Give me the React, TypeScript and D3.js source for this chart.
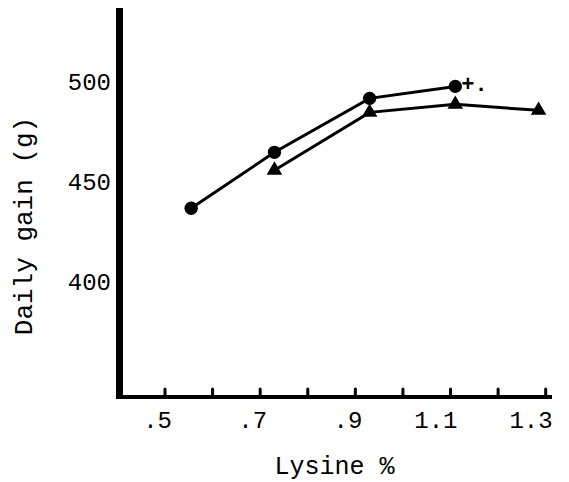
import * as d3 from "d3";
import { useEffect, useRef } from "react";

// lysine levels (%) and daily gain (g)
const circleLysine = [0.555, 0.73, 0.93, 1.11];
const circleGain = [437, 465, 492, 498];
const triangleLysine = [0.73, 0.93, 1.11, 1.285];
const triangleGain = [456, 485, 489, 486];

const xTicks = [0.5, 0.6, 0.7, 0.8, 0.9, 1.0, 1.1, 1.2, 1.3];
const xTickLabels = [".5", ".7", ".9", "1.1", "1.3"];
const xLabelValues = [0.5, 0.7, 0.9, 1.1, 1.3];
const yTicks = [400, 450, 500];

const FONT = "'Liberation Mono', 'DejaVu Sans Mono', monospace";

export default function App() {
  const ref = useRef<SVGSVGElement>(null);

  useEffect(() => {
    const svg = d3.select(ref.current);
    svg.selectAll("*").remove();

    const x = d3.scaleLinear().domain([0.5, 1.3]).range([165, 545.7]);
    const y = d3.scaleLinear().domain([343, 537]).range([396, 8.5]);

    const axisX = 119.5;
    const axisY = 397;

    // y axis (thick bar)
    svg
      .append("line")
      .attr("x1", axisX)
      .attr("x2", axisX)
      .attr("y1", 8)
      .attr("y2", axisY + 2)
      .attr("stroke", "#000")
      .attr("stroke-width", 7);

    // x axis
    svg
      .append("line")
      .attr("x1", axisX)
      .attr("x2", 552)
      .attr("y1", axisY)
      .attr("y2", axisY)
      .attr("stroke", "#000")
      .attr("stroke-width", 4);

    // small tick bumps above the x axis
    svg
      .append("g")
      .selectAll("line")
      .data(xTicks)
      .join("line")
      .attr("x1", (d) => x(d))
      .attr("x2", (d) => x(d))
      .attr("y1", axisY - 8)
      .attr("y2", axisY)
      .attr("stroke", "#000")
      .attr("stroke-width", 3)
      .attr("stroke-linecap", "round");

    // x tick labels, last digit under the tick
    svg
      .append("g")
      .selectAll("text")
      .data(xTickLabels)
      .join("text")
      .attr("x", (d, i) => x(xLabelValues[i]) + 7)
      .attr("y", 428)
      .attr("text-anchor", "end")
      .style("font-family", FONT)
      .style("font-size", "24px")
      .text((d) => d);

    // y tick labels
    svg
      .append("g")
      .selectAll("text")
      .data(yTicks)
      .join("text")
      .attr("x", 111)
      .attr("y", (d) => y(d) + 7.5)
      .attr("text-anchor", "end")
      .style("font-family", FONT)
      .style("font-size", "24px")
      .text((d) => d);

    // axis titles
    svg
      .append("text")
      .attr("transform", `translate(32, 226) rotate(-90)`)
      .attr("text-anchor", "middle")
      .style("font-family", FONT)
      .style("font-size", "26px")
      .text("Daily gain (g)");

    svg
      .append("text")
      .attr("x", 334.5)
      .attr("y", 474)
      .attr("text-anchor", "middle")
      .style("font-family", FONT)
      .style("font-size", "25px")
      .text("Lysine %");

    const circlePts: [number, number][] = circleLysine.map((v, i) => [x(v), y(circleGain[i])]);
    const trianglePts: [number, number][] = triangleLysine.map((v, i) => [x(v), y(triangleGain[i])]);
    const path = d3.line();

    [circlePts, trianglePts].forEach((pts) => {
      svg
        .append("path")
        .attr("d", path(pts))
        .attr("fill", "none")
        .attr("stroke", "#000")
        .attr("stroke-width", 3);
    });

    svg
      .append("g")
      .selectAll("path")
      .data(trianglePts)
      .join("path")
      .attr("transform", (d) => `translate(${d[0]},${d[1]})`)
      .attr("d", d3.symbol(d3.symbolTriangle, 105)())
      .attr("fill", "#000");

    svg
      .append("g")
      .selectAll("path")
      .data(circlePts)
      .join("path")
      .attr("transform", (d) => `translate(${d[0]},${d[1]})`)
      .attr("d", d3.symbol(d3.symbolCircle, 140)())
      .attr("fill", "#000");

    // significance mark next to the last circle
    const last = circlePts[circlePts.length - 1];
    svg
      .append("text")
      .attr("x", last[0] + 6)
      .attr("y", last[1] + 5)
      .style("font-family", FONT)
      .style("font-size", "22px")
      .style("font-weight", "bold")
      .text("+.");
  }, []);

  return (
    <svg
      ref={ref}
      width={569}
      height={482}
      style={{ position: "absolute", left: 0, top: 0, background: "#fff" }}
    />
  );
}
